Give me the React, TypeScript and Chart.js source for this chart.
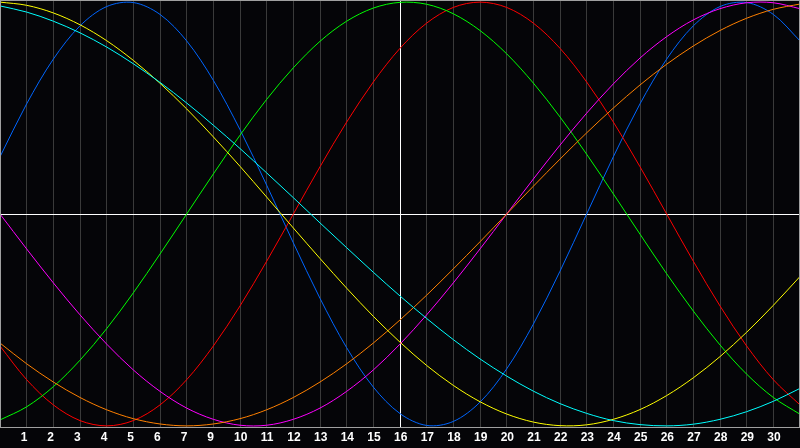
import { useEffect, useRef } from "react";
import { Chart, registerables } from "chart.js";

Chart.register(...registerables);

// day labels under the grid (the first and last grid lines carry none)
const days = [
  "", "1", "2", "3", "4", "5", "6", "7", "9", "10", "11", "12", "13", "14", "15", "16",
  "17", "18", "19", "20", "21", "22", "23", "24", "25", "26", "27", "28", "29", "30", "",
];
const todayIndex = 15;

// cycles, one value per grid line
const physical = [
  0.27, 0.52, 0.731, 0.888, 0.979, 0.998, 0.942, 0.817, 0.631, 0.398, 0.136, -0.136, -0.398, -0.631, -0.817, -0.942,
  -0.998, -0.979, -0.888, -0.731, -0.52, -0.27, 0.0, 0.27, 0.52, 0.731, 0.888, 0.979, 0.998, 0.942, 0.817,
];
const emotional = [
  -0.623, -0.782, -0.901, -0.975, -1.0, -0.975, -0.901, -0.782, -0.623, -0.434, -0.223, 0.0, 0.223, 0.434, 0.623, 0.782,
  0.901, 0.975, 1.0, 0.975, 0.901, 0.782, 0.623, 0.434, 0.223, 0.0, -0.223, -0.434, -0.623, -0.782, -0.901,
];
const intellectual = [
  -0.972, -0.91, -0.815, -0.69, -0.541, -0.372, -0.189, 0.0, 0.189, 0.372, 0.541, 0.69, 0.815, 0.91, 0.972, 0.999,
  0.99, 0.945, 0.866, 0.756, 0.618, 0.458, 0.282, 0.095, -0.095, -0.282, -0.458, -0.618, -0.756, -0.866, -0.945,
];
const intuitive = [
  0.0, -0.165, -0.325, -0.476, -0.614, -0.736, -0.837, -0.916, -0.969, -0.997, -0.997, -0.969, -0.916, -0.837, -0.736, -0.614,
  -0.476, -0.325, -0.165, 0.0, 0.165, 0.325, 0.476, 0.614, 0.736, 0.837, 0.916, 0.969, 0.997, 0.997, 0.969,
];
const aesthetic = [
  1.0, 0.985, 0.949, 0.893, 0.818, 0.725, 0.617, 0.496, 0.364, 0.225, 0.08, -0.066, -0.21, -0.35, -0.483, -0.605,
  -0.715, -0.809, -0.886, -0.944, -0.982, -0.999, -0.995, -0.969, -0.923, -0.857, -0.773, -0.673, -0.558, -0.431, -0.295,
];
const awareness = [
  -0.609, -0.707, -0.793, -0.866, -0.924, -0.966, -0.991, -1.0, -0.991, -0.966, -0.924, -0.866, -0.793, -0.707, -0.609, -0.5,
  -0.383, -0.259, -0.131, 0.0, 0.131, 0.259, 0.383, 0.5, 0.609, 0.707, 0.793, 0.866, 0.924, 0.966, 0.991,
];
const spiritual = [
  0.982, 0.953, 0.91, 0.855, 0.788, 0.709, 0.621, 0.524, 0.419, 0.309, 0.194, 0.077, -0.042, -0.159, -0.275, -0.387,
  -0.493, -0.593, -0.684, -0.765, -0.836, -0.895, -0.941, -0.975, -0.994, -1.0, -0.992, -0.969, -0.933, -0.884, -0.823,
];

const frame = {
  id: "frame",
  afterDraw(chart: Chart) {
    const { ctx, chartArea } = chart;
    ctx.save();
    ctx.strokeStyle = "#a0a0a0";
    ctx.lineWidth = 1;
    ctx.strokeRect(
      chartArea.left + 0.5,
      chartArea.top + 0.5,
      chartArea.right - chartArea.left - 1,
      chartArea.bottom - chartArea.top - 1
    );
    ctx.restore();
  },
};

const line = (data: number[], color: string) => ({
  data,
  borderColor: color,
  borderWidth: 1,
  pointRadius: 0,
  tension: 0.33,
  fill: false,
});

export default function App() {
  const canvasRef = useRef<HTMLCanvasElement>(null);

  useEffect(() => {
    if (!canvasRef.current) return;

    const chart = new Chart(canvasRef.current, {
      type: "line",
      data: {
        labels: days,
        datasets: [
          line(spiritual, "#00ffff"),
          line(aesthetic, "#ffff00"),
          line(awareness, "#ff8000"),
          line(intuitive, "#ff00ff"),
          line(intellectual, "#00ff00"),
          line(emotional, "#ff0000"),
          line(physical, "#0066ff"),
        ],
      },
      options: {
        animation: false,
        responsive: true,
        maintainAspectRatio: false,
        layout: { padding: 0 },
        plugins: {
          legend: { display: false },
          tooltip: { enabled: false },
        },
        scales: {
          x: {
            offset: false,
            border: { display: false },
            grid: {
              offset: false,
              drawTicks: false,
              color: (c: any) => (c.index === todayIndex ? "#ffffff" : "#3a3a3a"),
            },
            ticks: {
              color: "#ffffff",
              font: { family: "Liberation Sans", size: 12, weight: "bold", lineHeight: "20px" },
              autoSkip: false,
              maxRotation: 0,
              minRotation: 0,
              align: "start",
              labelOffset: -6,
              padding: 0,
            },
          },
          y: {
            min: -1.01,
            max: 1.01,
            border: { display: false },
            grid: {
              drawTicks: false,
              color: (c: any) =>
                c.tick && Math.abs(c.tick.value) < 1e-9 ? "#ffffff" : "rgba(0,0,0,0)",
            },
            ticks: { display: false, stepSize: 0.5 },
          },
        },
      },
      plugins: [frame],
    });

    return () => {
      chart.destroy();
    };
  }, []);

  return (
    <div
      style={{
        position: "fixed",
        left: 0,
        top: 0,
        width: "800px",
        height: "448px",
        background: "#050508",
      }}
    >
      <canvas ref={canvasRef} />
    </div>
  );
}
